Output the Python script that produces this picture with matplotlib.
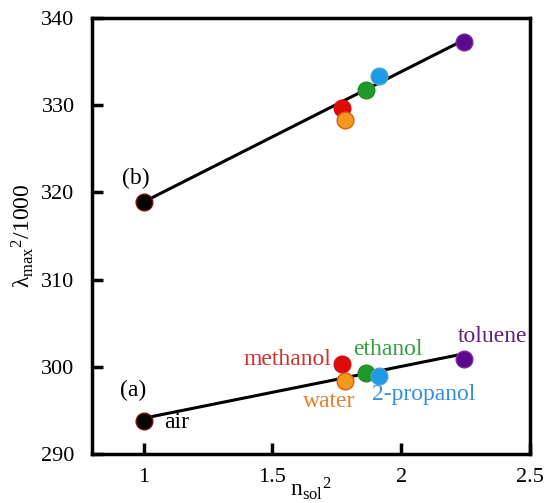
import matplotlib.pyplot as plt

plt.rcParams["font.family"] = ["Liberation Serif", "DejaVu Serif"]
plt.rcParams["mathtext.fontset"] = "custom"
plt.rcParams["mathtext.rm"] = "Liberation Serif"
plt.rcParams["mathtext.it"] = "Liberation Serif:italic"

solvents = ["air", "methanol", "water", "ethanol", "2-propanol", "toluene"]
n_sol_sq = [1.0, 1.770, 1.783, 1.862, 1.912, 2.245]
lam_b = [318.9, 329.7, 328.3, 331.8, 333.3, 337.3]
lam_a = [293.8, 300.3, 298.4, 299.3, 298.9, 300.9]

# fitted lines, end points
fit_x = [1.0, 2.245]
fit_b = [318.9, 337.5]
fit_a = [294.1, 301.5]

fill_colors = ["#000000", "#e00a0a", "#f39a1e", "#1e9a2a", "#1e9ae6", "#5a0a8c"]
edge_colors = ["#7a1010", "#d01010", "#e05a10", "#2a8a2a", "#4aa0d0", "#7a2a9a"]
text_colors = ["#000000", "#d03030", "#e08030", "#30a040", "#3090e0", "#602080"]

fig = plt.figure(figsize=(5.44, 5.03), dpi=100)
ax = fig.add_axes([92 / 544, 49 / 503, 438 / 544, 436 / 503])

ax.plot(fit_x, fit_b, color="black", linewidth=2.2, zorder=2)
ax.plot(fit_x, fit_a, color="black", linewidth=2.2, zorder=2)

for i in range(len(solvents)):
    for y in (lam_b[i], lam_a[i]):
        ax.plot(n_sol_sq[i], y, "o", markersize=12, color=fill_colors[i],
                markeredgecolor=edge_colors[i], markeredgewidth=1.0, zorder=3)

fs = 17
ax.text(0.97, 321.6, "(b)", fontsize=fs, ha="center", va="center")
ax.text(0.96, 297.3, "(a)", fontsize=fs, ha="center", va="center")
ax.text(1.08, 293.6, "air", fontsize=fs, color=text_colors[0], ha="left", va="center")
ax.text(1.729, 300.8, "methanol", fontsize=fs, color=text_colors[1], ha="right", va="center")
ax.text(1.72, 296.0, "water", fontsize=fs, color=text_colors[2], ha="center", va="center")
ax.text(1.95, 302.0, "ethanol", fontsize=fs, color=text_colors[3], ha="center", va="center")
ax.text(1.888, 296.8, "2-propanol", fontsize=fs, color=text_colors[4], ha="left", va="center")
ax.text(2.353, 303.5, "toluene", fontsize=fs, color=text_colors[5], ha="center", va="center")

ax.set_xlim(0.8, 2.5)
ax.set_ylim(290, 340)
ax.set_xticks([1, 1.5, 2, 2.5])
ax.set_xticklabels(["1", "1.5", "2", "2.5"])
ax.set_yticks([290, 300, 310, 320, 330, 340])

for side in ax.spines:
    ax.spines[side].set_linewidth(2.5)
ax.tick_params(direction="in", length=8, width=2.5, labelsize=16)
ax.tick_params(axis="x", pad=10)
ax.tick_params(axis="y", pad=12.5)

ax.set_ylabel("λ" + r"$_{\mathrm{max}}{}^{2}$" + "/1000", fontsize=fs)
ax.yaxis.set_label_coords(-0.128, 0.5)
ax.set_xlabel(r"$\mathrm{n_{sol}}{}^{2}$", fontsize=fs)
ax.xaxis.set_label_coords(0.5, -0.05)

fig.savefig("out.png", dpi=100)
